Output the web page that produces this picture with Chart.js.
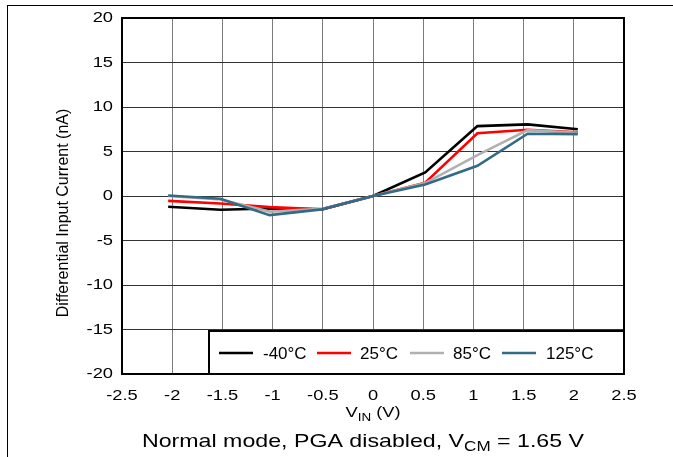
<!DOCTYPE html>
<html>
<head>
<meta charset="utf-8">
<script src="https://cdn.jsdelivr.net/npm/chart.js@4.4.1/dist/chart.umd.min.js"></script>
<style>
    html, body { margin: 0; padding: 0; background: #fff; }
    #wrap { position: relative; width: 673px; height: 457px; overflow: hidden; }
    #frame { position: absolute; left: 7px; top: 5px; right: -2px; bottom: -2px; border-top: 1px solid #000; border-left: 1px solid #000; }
    canvas { position: absolute; left: 0; top: 0; }
</style>
</head>
<body>
<div id="wrap">
    <div id="frame"></div>
    <canvas id="chart" width="673" height="457"></canvas>
</div>
<script>
const vin = [-2.04, -1.52, -1.03, -0.51, 0, 0.52, 1.04, 1.54, 2.04];
const tempLabels = ["-40°C", "25°C", "85°C", "125°C"];
const tempColors = ["#000000", "#ff0000", "#b0b0b0", "#336b87"];
const currentM40 = [-1.2, -1.55, -1.4, -1.5, 0, 2.65, 7.85, 8.05, 7.5];
const current25 = [-0.55, -0.85, -1.25, -1.5, 0, 1.5, 7.05, 7.45, 7.15];
const current85 = [0, -0.4, -1.75, -1.45, 0, 1.45, 4.6, 7.4, 7.1];
const current125 = [0.05, -0.3, -2.15, -1.5, 0, 1.3, 3.4, 7.0, 6.95];
const series = [currentM40, current25, current85, current125];

const FONT = "'Liberation Sans', Arial, sans-serif";
const STRETCH = 1.22; // the source image is a bit wider than tall

// horizontally stretched single text
function stretchText(ctx, text, x, y, align, size, sx) {
    ctx.save();
    ctx.font = size + "px " + FONT;
    ctx.translate(x, y);
    ctx.scale(sx, 1);
    ctx.textAlign = align;
    ctx.textBaseline = "middle";
    ctx.fillText(text, 0, 0);
    ctx.restore();
}

// text with a subscript part, centred at (cx, cy)
function drawSubText(ctx, parts, cx, cy, size, sx) {
    const subSize = Math.round(size * 0.72);
    let total = 0;
    parts.forEach(p => {
        ctx.font = (p.sub ? subSize : size) + "px " + FONT;
        p.w = ctx.measureText(p.t).width;
        total += p.w;
    });
    ctx.save();
    ctx.translate(cx, cy);
    ctx.scale(sx, 1);
    let x = -total / 2;
    ctx.textAlign = "left";
    ctx.textBaseline = "alphabetic";
    parts.forEach(p => {
        ctx.font = (p.sub ? subSize : size) + "px " + FONT;
        ctx.fillText(p.t, x, size * 0.35 + (p.sub ? size * 0.22 : 0));
        x += p.w;
    });
    ctx.restore();
}

const decorations = {
    id: "decorations",
    afterDraw(chart) {
        const ctx = chart.ctx;
        const a = chart.chartArea;
        const xs = chart.scales.x, ys = chart.scales.y;
        ctx.save();
        // plot frame
        ctx.strokeStyle = "#000";
        ctx.lineWidth = 2;
        ctx.strokeRect(a.left, a.top, a.right - a.left, a.bottom - a.top);

        // legend box
        const lx = 209, ly = 331;
        ctx.fillStyle = "#fff";
        ctx.fillRect(lx, ly, a.right - lx, a.bottom - ly);
        ctx.strokeRect(lx, ly, a.right - lx, a.bottom - ly);
        const lineStart = [219, 317, 410, 502];
        const textStart = [263, 360, 453, 546];
        ctx.font = "17px " + FONT;
        ctx.textBaseline = "middle";
        ctx.textAlign = "left";
        tempLabels.forEach((lab, i) => {
            ctx.strokeStyle = tempColors[i];
            ctx.lineWidth = 2.5;
            ctx.beginPath();
            ctx.moveTo(lineStart[i], 353);
            ctx.lineTo(lineStart[i] + 34, 353);
            ctx.stroke();
            ctx.fillStyle = "#000";
            ctx.fillText(lab, textStart[i], 354);
        });

        // tick labels
        ctx.fillStyle = "#000";
        xs.ticks.forEach(t => {
            stretchText(ctx, String(t.value), xs.getPixelForValue(t.value), a.bottom + 22, "center", 15, STRETCH);
        });
        ys.ticks.forEach(t => {
            stretchText(ctx, String(t.value), a.left - 9, ys.getPixelForValue(t.value), "right", 15, STRETCH);
        });

        // axis titles and caption
        drawSubText(ctx, [{ t: "V" }, { t: "IN", sub: true }, { t: " (V)" }], 373, 412, 15, STRETCH);
        drawSubText(ctx, [{ t: "Normal mode, PGA disabled, V" }, { t: "CM", sub: true }, { t: " = 1.65 V" }], 363, 440, 19, STRETCH);

        ctx.translate(64, 213);
        ctx.rotate(-Math.PI / 2);
        ctx.font = "16px " + FONT;
        ctx.textAlign = "center";
        ctx.textBaseline = "middle";
        ctx.fillText("Differential Input Current (nA)", 0, 0);
        ctx.restore();
    }
};

new Chart(document.getElementById("chart"), {
    type: "line",
    data: {
        datasets: series.map((vals, i) => ({
            label: tempLabels[i],
            data: vals.map((v, j) => ({ x: vin[j], y: v })),
            borderColor: tempColors[i],
            borderWidth: 2.6,
            pointRadius: 0,
            tension: 0,
            fill: false,
            order: series.length - i
        }))
    },
    options: {
        responsive: false,
        animation: false,
        layout: { padding: { left: 0, top: 18, right: 49, bottom: 0 } },
        plugins: {
            legend: { display: false },
            tooltip: { enabled: false }
        },
        scales: {
            x: {
                type: "linear",
                min: -2.5,
                max: 2.5,
                afterFit(scale) { scale.height = 83; },
                ticks: { stepSize: 0.5, display: false },
                grid: { color: "#7a7a7a", lineWidth: 1, drawTicks: false },
                border: { display: false }
            },
            y: {
                min: -20,
                max: 20,
                afterFit(scale) { scale.width = 122; },
                ticks: { stepSize: 5, display: false },
                grid: { color: "#333", lineWidth: 1, drawTicks: false },
                border: { display: false }
            }
        }
    },
    plugins: [decorations]
});
</script>
</body>
</html>
